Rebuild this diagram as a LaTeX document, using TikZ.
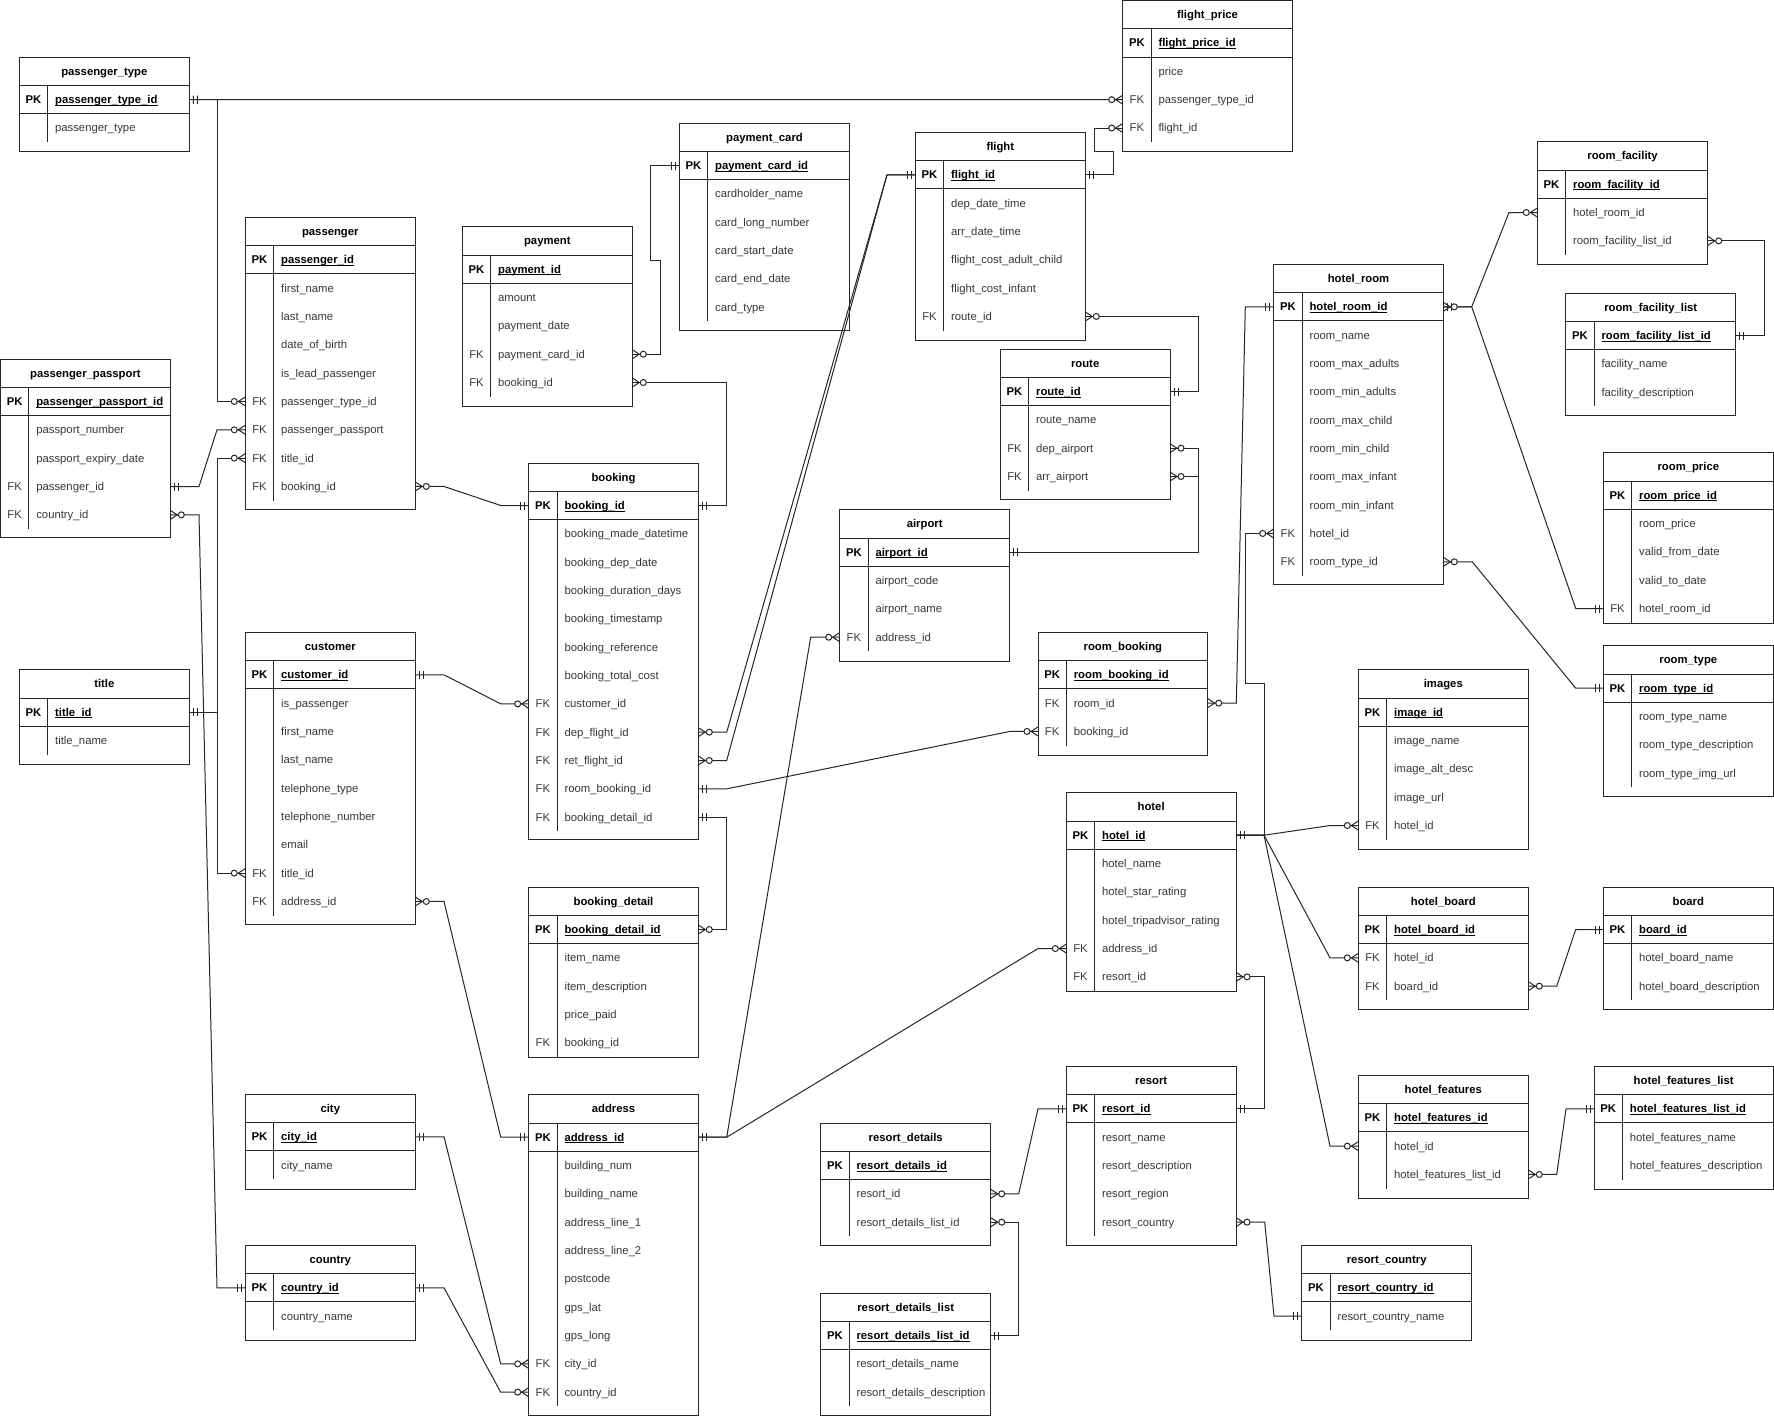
\documentclass[tikz,border=0pt]{standalone}
\usepackage{fontspec}
\setmainfont{Liberation Sans}
\usetikzlibrary{calc,decorations.markings}
\definecolor{linec}{gray}{0.15}
\definecolor{fieldc}{gray}{0.22}
\newsavebox\erbox
\newcount\ernrows
\newcommand{\erfont}{\fontsize{11.3}{13}\selectfont}
\newcommand{\erul}[1]{\sbox\erbox{#1}\rlap{\rule[-2pt]{\wd\erbox}{0.8pt}}\usebox\erbox}
\def\erR{28.3333}
\tikzset{
 tbox/.style={draw=linec, line width=1pt, inner sep=0pt, outer sep=0pt},
 tline/.style={draw=linec, line width=1pt},
 ttitle/.style={font=\erfont\bfseries, text=black, inner sep=0pt, text height=10.2pt, text depth=2.4pt},
 tkey/.style={font=\erfont, text=fieldc, inner sep=0pt, text height=10.2pt, text depth=2.4pt},
 tpk/.style={tkey, font=\erfont\bfseries, text=black},
 tfield/.style={tkey, anchor=west},
 tpkf/.style={tfield, font=\erfont\bfseries, text=black},
 er/.style={draw=linec, line width=1pt},
 mone start/.style={postaction={decorate,decoration={markings,mark=at position 0 with {\draw[er] (4pt,-4pt)--(4pt,4pt) (8pt,-4pt)--(8pt,4pt);}}}},
 mone end/.style={postaction={decorate,decoration={markings,mark=at position 1 with {\draw[er] (-4pt,-4pt)--(-4pt,4pt) (-8pt,-4pt)--(-8pt,4pt);}}}},
 zmany start/.style={postaction={decorate,decoration={markings,mark=at position 0 with {\draw[er] (0pt,4.5pt)--(7pt,0pt)--(0pt,-4.5pt); \draw[er,fill=white] (11pt,0pt) circle (3pt);}}}},
 zmany end/.style={postaction={decorate,decoration={markings,mark=at position 1 with {\draw[er] (0pt,4.5pt)--(-7pt,0pt)--(0pt,-4.5pt); \draw[er,fill=white] (-11pt,0pt) circle (3pt);}}}},
}
% #1 name, #2 x, #3 top, #4 width, #5 bottom, #6 title, #7 pk field, #8 rows key/field
\newcommand{\ertable}[8]{%
 \pgfmathsetmacro\erh{#5-#3}%
 \node[tbox, minimum width=#4pt, minimum height=\erh pt, anchor=north west] (#1) at (#2,#3) {};
 \node[ttitle] (#1-title) at (#2+#4/2, #3+14.1667) {#6};
 \draw[tline] (#2,#3+\erR) -- ++(#4,0);
 \draw[tline] (#2,#3+2*\erR) -- ++(#4,0);
 \node[tpk] (#1-k0) at (#2+\erR/2, #3+1.5*\erR) {PK};
 \node[tpkf] (#1-f0) at (#2+\erR+7.3, #3+1.5*\erR) {\erul{#7}};
 \coordinate (#1-0-w) at (#2, #3+1.5*\erR);
 \coordinate (#1-0-e) at (#2+#4, #3+1.5*\erR);
 \foreach \erk/\erf [count=\ern] in {#8} {
   \node[tkey] (#1-k\ern) at (#2+\erR/2, #3+1.5*\erR+\ern*\erR) {\erk};
   \node[tfield] (#1-f\ern) at (#2+\erR+7.3, #3+1.5*\erR+\ern*\erR) {\erf};
   \coordinate (#1-\ern-w) at (#2, #3+1.5*\erR+\ern*\erR);
   \coordinate (#1-\ern-e) at (#2+#4, #3+1.5*\erR+\ern*\erR);
   \global\ernrows=\ern\relax
 }
 \draw[tline] (#2+\erR,#3+\erR) -- (#2+\erR, {#3+(2+\the\ernrows)*\erR});
}
\begin{document}
\begin{tikzpicture}[x=1pt,y=-1pt]
\useasboundingbox (0,0) rectangle (1774,1416);
\fill[white] (0,0) rectangle (1774,1416);

\ertable{ptype}{19.3}{57.2}{170}{151.3}{passenger\_type}{passenger\_type\_id}{/passenger\_type}
\ertable{fprice}{1122.7}{0.5}{169.6}{151}{flight\_price}{flight\_price\_id}{/price, FK/passenger\_type\_id, FK/flight\_id}
\ertable{pass}{245.3}{217.3}{170}{509.5}{passenger}{passenger\_id}{/first\_name, /last\_name, /date\_of\_birth, /is\_lead\_passenger, FK/passenger\_type\_id, FK/passenger\_passport, FK/title\_id, FK/booking\_id}
\ertable{ppass}{0.5}{359}{169.8}{537.7}{passenger\_passport}{passenger\_passport\_id}{/passport\_number, /passport\_expiry\_date, FK/passenger\_id, FK/country\_id}
\ertable{title}{19.3}{669.7}{170}{764}{title}{title\_id}{/title\_name}
\ertable{cust}{245.3}{632.3}{170}{924.3}{customer}{customer\_id}{/is\_passenger, /first\_name, /last\_name, /telephone\_type, /telephone\_number, /email, FK/title\_id, FK/address\_id}
\ertable{city}{245.3}{1094.3}{170}{1189}{city}{city\_id}{/city\_name}
\ertable{country}{245.3}{1245.3}{170}{1340}{country}{country\_id}{/country\_name}
\ertable{pay}{462.3}{226.7}{170}{406}{payment}{payment\_id}{/amount, /payment\_date, FK/payment\_card\_id, FK/booking\_id}
\ertable{pcard}{679.3}{123}{170.4}{330.7}{payment\_card}{payment\_card\_id}{/cardholder\_name, /card\_long\_number, /card\_start\_date, /card\_end\_date, /card\_type}
\ertable{book}{528.7}{463}{169.6}{839.7}{booking}{booking\_id}{/booking\_made\_datetime, /booking\_dep\_date, /booking\_duration\_days, /booking\_timestamp, /booking\_reference, /booking\_total\_cost, FK/customer\_id, FK/dep\_flight\_id, FK/ret\_flight\_id, FK/room\_booking\_id, FK/booking\_detail\_id}
\ertable{bdet}{528.7}{887}{169.6}{1057}{booking\_detail}{booking\_detail\_id}{/item\_name, /item\_description, /price\_paid, FK/booking\_id}
\ertable{addr}{528.7}{1094.7}{169.6}{1415}{address}{address\_id}{/building\_num, /building\_name, /address\_line\_1, /address\_line\_2, /postcode, /gps\_lat, /gps\_long, FK/city\_id, FK/country\_id}
\ertable{flight}{915.3}{132.3}{170}{340}{flight}{flight\_id}{/dep\_date\_time, /arr\_date\_time, /flight\_cost\_adult\_child, /flight\_cost\_infant, FK/route\_id}
\ertable{route}{1000.3}{349}{169.7}{499.7}{route}{route\_id}{/route\_name, FK/dep\_airport, FK/arr\_airport}
\ertable{airport}{839.7}{509.7}{170}{661}{airport}{airport\_id}{/airport\_code, /airport\_name, FK/address\_id}
\ertable{rbook}{1038}{632.3}{169.7}{755}{room\_booking}{room\_booking\_id}{FK/room\_id, FK/booking\_id}
\ertable{hotel}{1066.3}{792.7}{169.7}{991}{hotel}{hotel\_id}{/hotel\_name, /hotel\_star\_rating, /hotel\_tripadvisor\_rating, FK/address\_id, FK/resort\_id}
\ertable{hroom}{1273.7}{264.3}{169.6}{584.3}{hotel\_room}{hotel\_room\_id}{/room\_name, /room\_max\_adults, /room\_min\_adults, /room\_max\_child, /room\_min\_child, /room\_max\_infant, /room\_min\_infant, FK/hotel\_id, FK/room\_type\_id}
\ertable{rfac}{1537.3}{141.7}{170.4}{264.3}{room\_facility}{room\_facility\_id}{/hotel\_room\_id, /room\_facility\_list\_id}
\ertable{rflist}{1565.7}{293}{170}{415.7}{room\_facility\_list}{room\_facility\_list\_id}{/facility\_name, /facility\_description}
\ertable{rprice}{1603.3}{452.7}{170}{623}{room\_price}{room\_price\_id}{/room\_price, /valid\_from\_date, /valid\_to\_date, FK/hotel\_room\_id}
\ertable{rtype}{1603.3}{645.7}{170}{796}{room\_type}{room\_type\_id}{/room\_type\_name, /room\_type\_description, /room\_type\_img\_url}
\ertable{images}{1358.3}{669.7}{170}{849.7}{images}{image\_id}{/image\_name, /image\_alt\_desc, /image\_url, FK/hotel\_id}
\ertable{hboard}{1358.3}{887}{170}{1009.7}{hotel\_board}{hotel\_board\_id}{FK/hotel\_id, FK/board\_id}
\ertable{board}{1603.3}{887}{170}{1009.7}{board}{board\_id}{/hotel\_board\_name, /hotel\_board\_description}
\ertable{hfeat}{1358.3}{1075.3}{170}{1198.3}{hotel\_features}{hotel\_features\_id}{/hotel\_id, /hotel\_features\_list\_id}
\ertable{hflist}{1594}{1066.3}{179.3}{1189}{hotel\_features\_list}{hotel\_features\_list\_id}{/hotel\_features\_name, /hotel\_features\_description}
\ertable{rcountry}{1301.7}{1245.3}{170}{1340}{resort\_country}{resort\_country\_id}{/resort\_country\_name}
\ertable{resort}{1066.3}{1066.3}{169.7}{1245.3}{resort}{resort\_id}{/resort\_name, /resort\_description, /resort\_region, /resort\_country}
\ertable{rdet}{820.7}{1123}{170}{1245.3}{resort\_details}{resort\_details\_id}{/resort\_id, /resort\_details\_list\_id}
\ertable{rdlist}{820.7}{1293}{170}{1415}{resort\_details\_list}{resort\_details\_list\_id}{/resort\_details\_name, /resort\_details\_description}

% connectors
\draw[er,mone start,zmany end] (ptype-0-e) -- (fprice-2-w);
\draw[er,mone start,zmany end] (ptype-0-e) -- ++(27.7,0) |- (pass-5-w);
\draw[er,mone start,zmany end] (ppass-3-e) -- ++(28.7,0) -- ($(pass-6-w)+(-28.3,0)$) -- (pass-6-w);
\draw[er,zmany start,mone end] (ppass-4-e) -- ++(28.7,0) -- ($(country-0-w)+(-28.3,0)$) -- (country-0-w);
\draw[er,mone start,zmany end] (title-0-e) -- ++(27.7,0) |- (pass-7-w);
\draw[er,mone start,zmany end] (title-0-e) -- ++(27.7,0) |- (cust-7-w);
\draw[er,zmany start,mone end] (pass-8-e) -- ++(28.7,0) -- ($(book-0-w)+(-28,0)$) -- (book-0-w);
\draw[er,mone start,zmany end] (cust-0-e) -- ++(28.7,0) -- ($(book-7-w)+(-28,0)$) -- (book-7-w);
\draw[er,zmany start,mone end] (cust-8-e) -- ++(28.7,0) -- ($(addr-0-w)+(-28,0)$) -- (addr-0-w);
\draw[er,mone start,zmany end] (city-0-e) -- ++(28.7,0) -- ($(addr-8-w)+(-28,0)$) -- (addr-8-w);
\draw[er,mone start,zmany end] (country-0-e) -- ++(28.7,0) -- ($(addr-9-w)+(-28,0)$) -- (addr-9-w);
\draw[er,zmany start,mone end] (pay-3-e) -- ++(28.4,0) -- ++(0,-94.2) -- ++(-10,0) |- (pcard-0-w);
\draw[er,zmany start,mone end] (pay-4-e) -- ++(94.4,0) |- (book-0-e);
\draw[er,zmany start,mone end] (book-8-e) -- ++(28.4,0) -- ($(flight-0-w)+(-28.3,0)$) -- (flight-0-w);
\draw[er,zmany start,mone end] (book-9-e) -- ++(28.4,0) -- ($(flight-0-w)+(-28.3,0)$) -- (flight-0-w);
\draw[er,mone start,zmany end] (book-10-e) -- ++(28.4,0) -- ($(rbook-2-w)+(-28.3,0)$) -- (rbook-2-w);
\draw[er,mone start,zmany end] (book-11-e) -- ++(28.4,0) |- (bdet-0-e);
\draw[er,mone start,zmany end] (flight-0-e) -- ++(28,0) -- ++(0,-23.1) -- ++(-19,0) |- (fprice-3-w);
\draw[er,zmany start,mone end] (flight-5-e) -- ++(112.7,0) |- (route-0-e);
\draw[er,zmany start,mone end] (route-2-e) -- ++(28,0) |- (airport-0-e);
\draw[er,zmany start,mone end] (route-3-e) -- ++(28,0) |- (airport-0-e);
\draw[er,zmany start,mone end] (airport-3-w) -- ++(-29,0) -- ($(addr-0-e)+(28.4,0)$) -- (addr-0-e);
\draw[er,zmany start,mone end] (hotel-4-w) -- ++(-28.3,0) -- ($(addr-0-e)+(28.4,0)$) -- (addr-0-e);
\draw[er,zmany start,mone end] (rbook-1-e) -- ++(28.6,0) -- ($(hroom-0-w)+(-28.4,0)$) -- (hroom-0-w);
\draw[er,mone start,zmany end] (hotel-0-e) -- ++(28,0) -- ++(0,-151.5) -- ++(-18.7,0) |- (hroom-8-w);
\draw[er,mone start,zmany end] (hotel-0-e) -- ++(28,0) -- ($(images-4-w)+(-28.3,0)$) -- (images-4-w);
\draw[er,mone start,zmany end] (hotel-0-e) -- ++(28,0) -- ($(hboard-1-w)+(-28.3,0)$) -- (hboard-1-w);
\draw[er,mone start,zmany end] (hotel-0-e) -- ++(28,0) -- ($(hfeat-1-w)+(-28.3,0)$) -- (hfeat-1-w);
\draw[er,zmany start,mone end] (hotel-5-e) -- ++(28,0) |- (resort-0-e);
\draw[er,zmany start,mone end] (rdet-1-e) -- ++(28,0) -- ($(resort-0-w)+(-28.3,0)$) -- (resort-0-w);
\draw[er,zmany start,mone end] (rdet-2-e) -- ++(28,0) |- (rdlist-0-e);
\draw[er,zmany start,mone end] (resort-4-e) -- ++(28.7,0) -- ($(rcountry-1-w)+(-27.7,0)$) -- (rcountry-1-w);
\draw[er,mone start,zmany end] (hroom-0-e) -- ++(28.4,0) -- ($(rfac-1-w)+(-28.3,0)$) -- (rfac-1-w);
\draw[er,zmany start,mone end] (hroom-0-e) -- ++(28.4,0) -- ($(rprice-4-w)+(-27.6,0)$) -- (rprice-4-w);
\draw[er,zmany start,mone end] (rfac-2-e) -- ++(56.3,0) |- (rflist-0-e);
\draw[er,zmany start,mone end] (hroom-9-e) -- ++(29,0) -- ($(rtype-0-w)+(-27.6,0)$) -- (rtype-0-w);
\draw[er,zmany start,mone end] (hboard-2-e) -- ++(28.4,0) -- ($(board-0-w)+(-27.6,0)$) -- (board-0-w);
\draw[er,zmany start,mone end] (hfeat-2-e) -- ++(28.4,0) -- ($(hflist-0-w)+(-28,0)$) -- (hflist-0-w);
\end{tikzpicture}
\end{document}
